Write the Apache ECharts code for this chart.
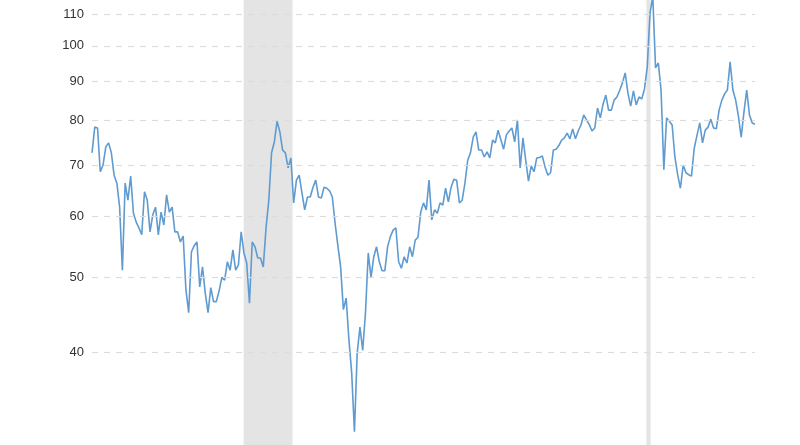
<!DOCTYPE html>
<html>
<head>
<meta charset="utf-8">
<script src="https://cdn.jsdelivr.net/npm/echarts@6/dist/echarts.min.js"></script>
<style>html,body{margin:0;padding:0;background:#fff}#chart{width:800px;height:445px}</style>
</head>
<body>
<div id="chart"></div>
<script>
// months since the first point, and the index values
var months = [0,1,2,3,4,5,6,7,8,9,10,11,12,13,14,15,16,17,18,19,20,21,22,23,24,25,26,27,28,29,30,31,32,33,34,35,36,37,38,39,
  40,41,42,43,44,45,46,47,48,49,50,51,52,53,54,55,56,57,58,59,60,61,62,63,64,65,66,67,68,69,70,71,72,73,74,75,76,77,78,79,
  80,81,82,83,84,85,86,87,88,89,90,91,92,93,94,95,96,97,98,99,100,101,102,103,104,105,106,107,108,109,110,111,112,113,114,115,116,117,118,119,
  120,121,122,123,124,125,126,127,128,129,130,131,132,133,134,135,136,137,138,139,140,141,142,143,144,145,146,147,148,149,150,151,152,153,154,155,156,157,158,159,
  160,161,162,163,164,165,166,167,168,169,170,171,172,173,174,175,176,177,178,179,180,181,182,183,184,185,186,187,188,189,190,191,192,193,194,195,196,197,198,199,
  200,201,202,203,204,205,206,207,208,209,210,211,212,213,214,215,216,217,218,219,220,221,222,223,224,225,226,227,228,229,230,231,232,233,234,235,236,237,238,239,240];
var values = [72.6,78.4,78.2,68.6,70.0,73.9,74.8,72.6,67.9,66.3,61.7,51.1,66.3,63.0,67.7,60.6,59.0,58.0,56.8,64.6,63.0,57.3,60.3,61.7,56.8,60.8,58.5,64.0,60.8,61.7,57.3,57.3,55.6,56.6,48.2,45.0,54.0,55.0,55.6,48.6,
  51.6,47.7,45.0,48.5,46.5,46.5,48.0,50.0,49.6,52.4,51.1,54.3,51.1,51.9,57.3,53.8,52.2,46.3,55.6,54.8,53.0,53.0,51.6,58.0,63.0,72.6,75.0,79.8,77.3,73.2,
  72.6,69.4,71.5,62.5,66.9,67.9,64.4,61.2,63.6,63.6,65.5,66.9,63.6,63.4,65.5,65.3,64.8,63.6,58.8,55.0,51.6,45.4,47.0,41.5,37.6,31.5,39.9,43.1,40.2,45.0,
  53.8,50.0,53.2,54.8,52.4,51.0,51.0,54.8,56.5,57.6,58.0,52.4,51.4,53.2,52.2,54.8,53.2,55.9,56.4,60.8,62.5,61.2,66.9,59.4,61.2,60.6,62.5,62.1,65.3,62.7,
  65.5,67.1,66.9,62.5,63.0,66.3,71.0,72.6,76.1,77.3,73.2,73.2,71.7,72.8,71.5,75.4,74.8,77.7,75.5,73.4,76.6,77.5,78.2,75.0,80.1,69.4,75.9,71.0,66.7,69.8,
  68.6,71.5,71.6,71.9,69.6,67.9,68.4,73.2,73.4,74.2,75.4,75.9,77.0,75.7,78.0,75.7,77.5,78.9,81.3,80.1,79.0,77.5,78.2,83.0,80.6,84.0,86.3,82.5,82.5,85.0,
  85.8,87.5,89.5,92.2,86.8,83.5,87.4,83.8,85.8,85.3,87.9,93.9,110.3,116,93.6,95.0,87.6,69.0,80.6,79.8,78.9,71.7,68.0,65.3,70.0,68.4,68.0,67.7,73.6,76.5,
  79.4,74.8,77.7,78.4,80.3,78.2,78.0,82.5,85.0,86.6,87.6,95.3,87.6,85.0,81.0,76.1,82.0,87.6,81.3,79.4,79.1];
var tickValues = [40, 50, 60, 70, 80, 90, 100, 110];
var recessionStart = [54.9, 200.7];
var recessionEnd = [72.6, 202.2];

var chart = echarts.init(document.getElementById('chart'));
var points = months.map(function (m, i) { return [m, values[i]]; });

chart.setOption({
  animation: false,
  grid: { left: 92, right: 45, top: 0, bottom: 0 },
  xAxis: { type: 'value', min: 0, max: 240, show: false },
  yAxis: {
    type: 'log', min: 30.28, max: 114.7,
    axisLine: { show: false }, axisTick: { show: false },
    axisLabel: { show: false }, splitLine: { show: false }
  },
  series: [{
    type: 'line',
    data: points,
    showSymbol: false,
    lineStyle: { color: '#5f9bd0', width: 1.6 },
    itemStyle: { color: '#5f9bd0' },
    markArea: {
      silent: true,
      itemStyle: { color: '#e4e4e4' },
      data: recessionStart.map(function (s, i) { return [{ xAxis: s }, { xAxis: recessionEnd[i] }]; })
    },
    markLine: {
      silent: true,
      symbol: 'none',
      lineStyle: { color: '#dcdcdc', type: [6, 6], width: 1.2 },
      label: {
        position: 'start', distance: 8, color: '#333',
        fontFamily: 'Helvetica, Arial, sans-serif', fontSize: 13,
        formatter: function (p) { return p.value; }
      },
      data: tickValues.map(function (v) { return { yAxis: v }; })
    }
  }]
});
</script>
</body>
</html>
